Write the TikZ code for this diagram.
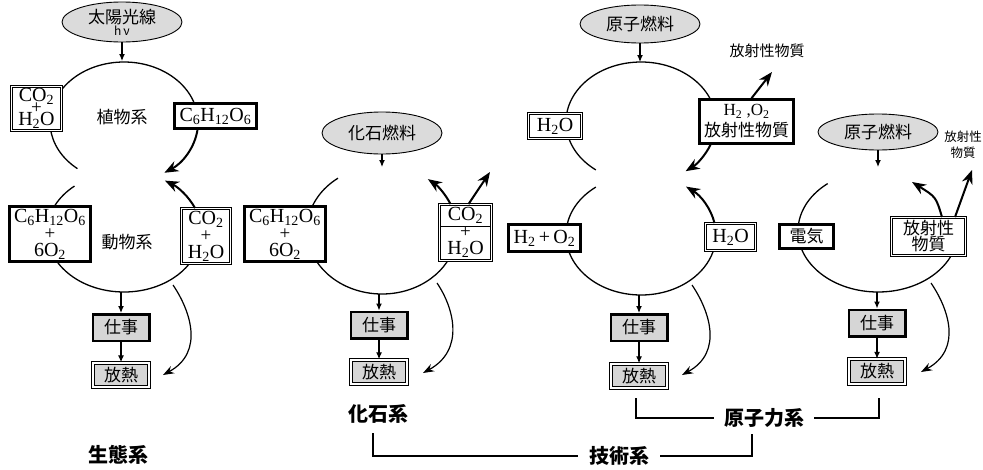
\documentclass[tikz,border=0pt]{standalone}
\usepackage{fontspec}
\setmainfont{Liberation Serif}
\newfontfamily\jp{Noto Sans CJK JP}
\usetikzlibrary{shapes.geometric,arrows.meta}

\newcommand{\ssub}[1]{\textsubscript{#1}}
\newcommand{\chemfont}{\fontsize{20}{14}\selectfont\lineskiplimit=-30pt}
\newcommand{\jpfont}{\jp\fontsize{17}{16}\selectfont\lineskiplimit=-30pt}
\newcommand{\pls}{{\fontsize{19}{14}\selectfont+}}

\tikzset{%
  every node/.style={
    inner sep=1pt
  },
  cyc/.style={line width=1.3pt},
  fat/.style={line width=2pt, -{Stealth[length=14pt,width=11pt]}},
  arr/.style={line width=1.2pt, -{Latex[length=7pt,width=6pt]}},
  loss/.style={line width=1.2pt, -{Stealth[length=11pt,width=8pt]}},
  tbox/.style={draw, line width=2.5pt, fill=white, inner sep=0pt, align=center, font=\chemfont},
  dbox/.style={draw, double, double distance=1.8pt, line width=0.9pt, fill=white, inner sep=0pt, align=center, font=\chemfont},
  gtbox/.style={tbox, fill=black!16, font=\jpfont, minimum width=56.5pt, minimum height=26.5pt},
  gdbox/.style={dbox, fill=black!16, font=\jpfont, minimum width=55.5pt, minimum height=24.5pt},
  fuel/.style={ellipse, draw, line width=0.9pt, fill=black!14, inner sep=0pt, align=center, font=\jpfont, minimum width=120pt, minimum height=40pt},
  sys/.style={font=\jpfont},
  syslabel/.style={font=\jp\bfseries\fontsize{20}{20}\selectfont, inner xsep=11pt},
  bracket/.style={line width=1.2pt}
}

\begin{document}
\begin{tikzpicture}[x=1pt,y=-1pt]
        \useasboundingbox (0,0) rectangle (983,469);
        \coordinate (ca) at (124,122);
        \coordinate (cb) at (124,232);
        \coordinate (cf) at (382,230);
        \coordinate (cn) at (641,122);
        \coordinate (co) at (641,235);
        \coordinate (cm) at (878,231);
        \draw[cyc] (ca) ++(129:74 and 60) arc[start angle=129, end angle=360, x radius=74, y radius=60];
        \draw[cyc] (cb) ++(230:77 and 60) arc[start angle=230, end angle=-20, x radius=77, y radius=60];
        \draw[cyc] (cf) ++(234:75 and 64) arc[start angle=234, end angle=-20, x radius=75, y radius=64];
        \draw[cyc] (cn) ++(127:75 and 60) arc[start angle=127, end angle=360, x radius=75, y radius=60];
        \draw[cyc] (co) ++(233:75 and 60) arc[start angle=233, end angle=-12, x radius=75, y radius=60];
        \draw[cyc] (cm) ++(231:80 and 61) arc[start angle=231, end angle=-8, x radius=80, y radius=61];

        \node[fuel] at (122,22) (sunA) {太陽光線\\[-4pt]{\fontsize{12}{12}\selectfont h\,ν}};
        \node[fuel, minimum height=42pt] at (382,133) (fuelF) {化石燃料};
        \node[fuel, minimum height=38pt] at (640,24) (fuelN) {原子燃料};
        \node[fuel, minimum height=36pt] at (878,132) (fuelM) {原子燃料};

        \node[sys] at (122,117) (plant) {植物系};
        \node[sys] at (127,242) (animal) {動物系};
        \node[dbox, minimum width=50pt, minimum height=44pt] at (36.5,108.5) (co2A) {CO\ssub{2}\\[-2pt]\pls\\[-2pt]H\ssub{2}O};
        \node[tbox, minimum width=82pt, minimum height=25pt] at (215.5,116) (gluA) {C\ssub{6}H\ssub{12}O\ssub{6}};
        \node[tbox, minimum width=81pt, minimum height=55pt] at (50,234) (gluB) {C\ssub{6}H\ssub{12}O\ssub{6}\\[3pt]\pls\\[3pt]6O\ssub{2}};
        \node[dbox, minimum width=49pt, minimum height=55pt] at (206,236) (co2B) {CO\ssub{2}\\[3pt]\pls\\[3pt]H\ssub{2}O};
        \node[tbox, minimum width=81pt, minimum height=55pt] at (285,234) (gluF) {C\ssub{6}H\ssub{12}O\ssub{6}\\[3pt]\pls\\[3pt]6O\ssub{2}};
        \node[dbox, minimum width=52pt, minimum height=56pt] at (465.5,232.5) (co2F) {CO\ssub{2}\\[3pt]\pls\\[3pt]H\ssub{2}O};
        \draw[line width=0.9pt] ([shift={(1.8,22)}]co2F.north west) -- ([shift={(-1.8,22)}]co2F.north east);
        \node[dbox, minimum width=53pt, minimum height=25pt] at (555,126) (h2oA) {H\ssub{2}O};
        \node[tbox, font=\jpfont, minimum width=94pt, minimum height=44pt] at (746.5,121.5) (mixN) {{\fontsize{17}{14}\selectfont\rmfamily H\ssub{2} ,O\ssub{2}}\\[5pt]放射性物質};
        \node[tbox, minimum width=72pt, minimum height=27pt] at (544.5,238) (hydN) {H\ssub{2}\,+\,O\ssub{2}};
        \node[dbox, minimum width=50pt, minimum height=27pt] at (730.5,237) (h2oB) {H\ssub{2}O};
        \node[tbox, font=\jpfont, minimum width=54pt, minimum height=24pt] at (806.5,236.5) (elec) {電気};
        \node[dbox, font=\jpfont, minimum width=74pt, minimum height=38pt] at (928.5,236.5) (radB) {放射性\\物質};
        \node[font=\jp\fontsize{15}{15}\selectfont] at (767,51) (radTop) {放射性物質};
        \node[font=\jp\fontsize{12.5}{16}\selectfont, align=center] at (963,145) (radSide) {放射性\\物質};

        \node[gtbox] at (121,327.5) (workA) {仕事};
        \node[gdbox] at (121,375) (heatA) {放熱};
        \node[gtbox] at (379,325) (workF) {仕事};
        \node[gdbox] at (379,372) (heatF) {放熱};
        \node[gtbox] at (639,327.5) (workN) {仕事};
        \node[gdbox] at (639,376) (heatN) {放熱};
        \node[gtbox] at (877,323) (workM) {仕事};
        \node[gdbox] at (877,371.5) (heatM) {放熱};

        \node[syslabel] at (118,455) (eco) {生態系};
        \node[syslabel] at (378,414) (fossil) {化石系};
        \node[syslabel, inner xsep=10pt] at (764,418) (nucl) {原子力系};
        \node[syslabel] at (619,456) (tech) {技術系};

        \coordinate (topA) at (122,61);
        \coordinate (topF) at (382,167);
        \coordinate (topN) at (640,62);
        \coordinate (topM) at (878,167);
        \draw[arr] (sunA) -- (topA);
        \draw[arr] (fuelF) -- (topF);
        \draw[arr] (fuelN) -- (topN);
        \draw[arr] (fuelM) -- (topM);

        \draw[fat] (gluA.south) ++(-18,0) arc[start angle=7, end angle=57, x radius=74, y radius=60];
        \draw[fat] (co2B.north) ++(-11,0) arc[start angle=-23, end angle=-58, x radius=77, y radius=60];
        \draw[fat] (co2F.north) ++(-15,0) arc[start angle=-23.5, end angle=-52, x radius=75, y radius=64];
        \draw[fat] (mixN.south) ++(-36,0) arc[start angle=21, end angle=53, x radius=75, y radius=60];
        \draw[fat] (h2oB.north) ++(-16,0) arc[start angle=-11, end angle=-53, x radius=75, y radius=60];
        \coordinate (tipM) at (912,182);
        \draw[fat] ([xshift=13.5pt]radB.north) .. controls (936,197) .. (tipM);

        \coordinate (exF) at (490,172);
        \coordinate (exN) at (772,72);
        \coordinate (exM) at (972,170);
        \draw[fat] ([xshift=3pt]co2F.north) -- (exF);
        \draw[fat] ([xshift=5pt]mixN.north) -- (exN);
        \draw[fat] ([xshift=26.5pt]radB.north) -- (exM);

        \coordinate (botA) at (121,292);
        \coordinate (botF) at (379,294);
        \coordinate (botN) at (639,295);
        \coordinate (botM) at (877,292);
        \draw[arr] (botA) -- (workA);
        \draw[arr] (botF) -- (workF);
        \draw[arr] (botN) -- (workN);
        \draw[arr] (botM) -- (workM);
        \draw[arr] (workA) -- (heatA);
        \draw[arr] (workF) -- (heatF);
        \draw[arr] (workN) -- (heatN);
        \draw[arr] (workM) -- (heatM);

        \coordinate (lsA) at (173,285);
        \coordinate (ltA) at (163,375);
        \coordinate (lsF) at (437,283);
        \coordinate (ltF) at (423,373);
        \coordinate (lsN) at (692,285);
        \coordinate (ltN) at (682,375);
        \coordinate (lsM) at (931,283);
        \coordinate (ltM) at (921,372);
        \draw[loss] (lsA) .. controls +(17,25) and +(42,-23) .. (ltA);
        \draw[loss] (lsF) .. controls +(17,25) and +(42,-23) .. (ltF);
        \draw[loss] (lsN) .. controls +(17,25) and +(42,-23) .. (ltN);
        \draw[loss] (lsM) .. controls +(17,25) and +(42,-23) .. (ltM);

        \coordinate (techL) at (373,433);
        \coordinate (techR) at (752,434);
        \coordinate (nuclL) at (636,398);
        \coordinate (nuclR) at (879,398);
        \draw[bracket] (techL) |- (tech.west);
        \draw[bracket] (tech.east) -| (techR);
        \draw[bracket] (nuclL) |- (nucl.west);
        \draw[bracket] (nucl.east) -| (nuclR);
      \end{tikzpicture}
\end{document}
